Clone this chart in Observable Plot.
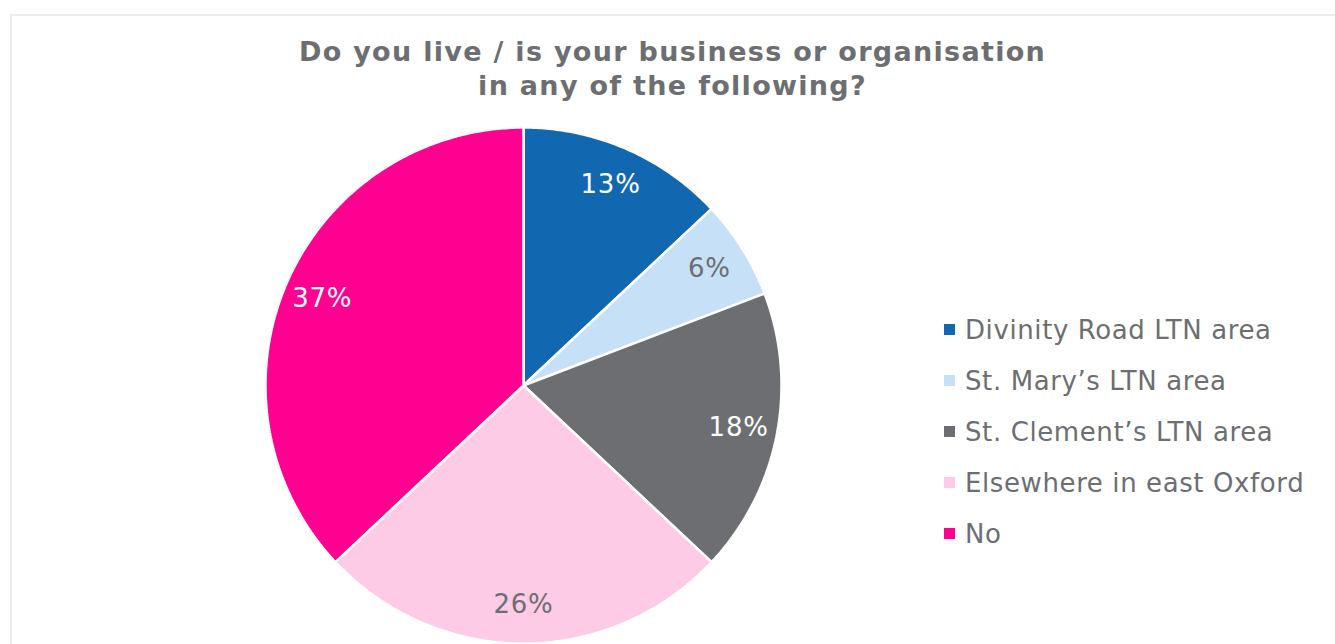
<!DOCTYPE html>
<html>
<head>
<meta charset="utf-8">
<script src="https://cdn.jsdelivr.net/npm/d3@7"></script>
<script src="https://cdn.jsdelivr.net/npm/@observablehq/plot@0.6"></script>
<style>
  html, body { margin: 0; padding: 0; background: #fff; }
  body { width: 1335px; height: 644px; overflow: hidden; position: relative; font-family: "DejaVu Sans", Verdana, sans-serif; }
  #frame { position: absolute; left: 10px; top: 14px; width: 1340px; height: 700px; border: 2px solid #ececec; box-sizing: border-box; }
  #title { position: absolute; left: 10px; width: 1325px; top: 35px; text-align: center; font-size: 27px; letter-spacing: 1.3px; font-weight: bold; line-height: 34px; color: #6d6e71; }
  #chart { position: absolute; left: 263px; top: 125px; }
  #chart text { letter-spacing: 0.8px; }
  #legend { position: absolute; left: 944px; top: 304px; }
  .row { height: 51px; display: flex; align-items: center; font-size: 26px; letter-spacing: 0.6px; color: #6d6e71; white-space: nowrap; }
  .sw { width: 11px; height: 11px; margin-right: 10px; flex: none; }
</style>
</head>
<body>
<div id="frame"></div>
<div id="title">Do you live / is your business or organisation<br>in any of the following?</div>
<div id="chart"></div>
<div id="legend"></div>
<script>
const categories = ["Divinity Road LTN area", "St. Mary’s LTN area", "St. Clement’s LTN area", "Elsewhere in east Oxford", "No"];
const shares = [13, 6.2, 17.8, 26, 37];
const labels = ["13%", "6%", "18%", "26%", "37%"];
const colors = ["#1268B0", "#C6E0F8", "#6D6E71", "#FDCBE6", "#FF0090"];

const R = 258;
const labelRadius = 0.85;
const textGray = "#6d6e71";

const arcs = d3.pie().sort(null).value(d => d.share)(
  categories.map((cat, i) => ({cat, share: shares[i], label: labels[i], color: colors[i]}))
);

// polygon outlines of each slice (unit circle, angles clockwise from top)
const poly = [];
arcs.forEach(a => {
  poly.push({cat: a.data.cat, x: 0, y: 0});
  const n = Math.max(2, Math.ceil((a.endAngle - a.startAngle) / 0.01));
  for (let k = 0; k <= n; k++) {
    const t = a.startAngle + (a.endAngle - a.startAngle) * k / n;
    poly.push({cat: a.data.cat, x: Math.sin(t), y: Math.cos(t)});
  }
  poly.push({cat: a.data.cat, x: 0, y: 0});
});

const lab = arcs.map(a => {
  const m = (a.startAngle + a.endAngle) / 2;
  const dark = d3.hsl(a.data.color).l < 0.6;
  return {x: labelRadius * Math.sin(m), y: labelRadius * Math.cos(m), text: a.data.label, dark};
});

const plot = Plot.plot({
  width: 2 * R + 4,
  height: 2 * R + 4,
  margin: 2,
  x: {domain: [-1, 1], axis: null},
  y: {domain: [-1, 1], axis: null},
  color: {domain: categories, range: colors},
  style: {fontFamily: "DejaVu Sans, Verdana, sans-serif", background: "transparent", overflow: "visible"},
  marks: [
    Plot.line(poly, {x: "x", y: "y", z: "cat", fill: "cat", stroke: "white", strokeWidth: 2.5, strokeLinejoin: "miter", curve: "linear"}),
    Plot.text(lab, {filter: d => d.dark, x: "x", y: "y", text: "text", fill: "white", fontSize: 26}),
    Plot.text(lab, {filter: d => !d.dark, x: "x", y: "y", text: "text", fill: textGray, fontSize: 26})
  ]
});
document.getElementById("chart").appendChild(plot);

const legend = document.getElementById("legend");
categories.forEach((c, i) => {
  const row = document.createElement("div");
  row.className = "row";
  const sw = document.createElement("span");
  sw.className = "sw";
  sw.style.background = colors[i];
  const tx = document.createElement("span");
  tx.textContent = c;
  row.appendChild(sw);
  row.appendChild(tx);
  legend.appendChild(row);
});
</script>
</body>
</html>
